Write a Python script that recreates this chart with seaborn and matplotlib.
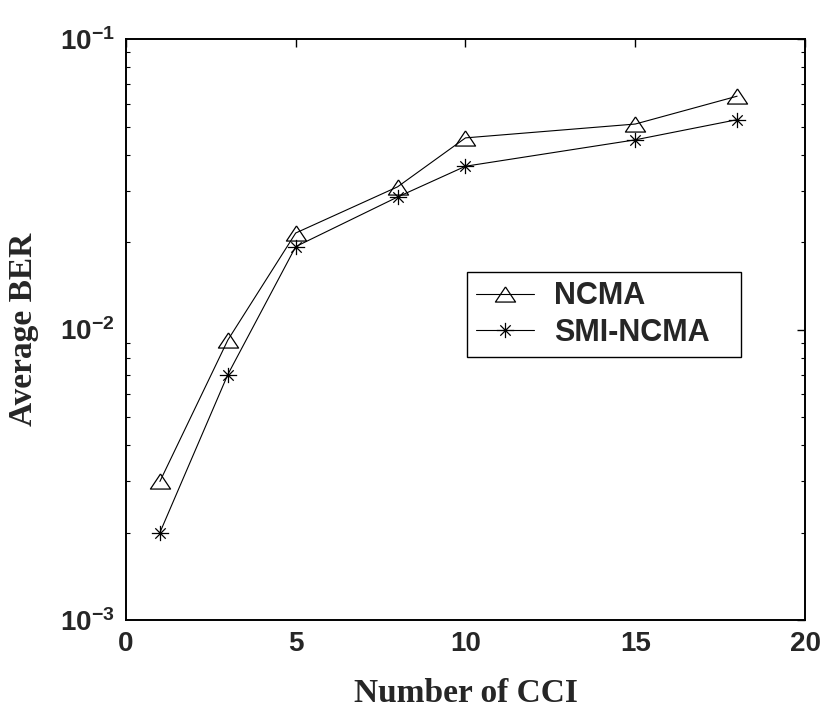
import matplotlib
matplotlib.use("Agg")
import matplotlib.pyplot as plt
import numpy as np
import pandas as pd
import seaborn as sns
from matplotlib.path import Path
from matplotlib.ticker import FixedLocator, FixedFormatter, LogLocator, NullFormatter

# data
num_cci = [1, 3, 5, 8, 10, 15, 18]
ber_ncma = [0.0030, 0.0092, 0.0215, 0.031, 0.0457, 0.051, 0.0636]
ber_smi_ncma = [0.0020, 0.0070, 0.0193, 0.0286, 0.0365, 0.045, 0.0528]
x_ticks = [0, 5, 10, 15, 20]
y_ticks = [1e-3, 1e-2, 1e-1]
y_tick_labels = [r'$\mathbf{10^{-3}}$', r'$\mathbf{10^{-2}}$', r'$\mathbf{10^{-1}}$']

sns.set_theme(style="white")
plt.rcParams['font.family'] = ['Liberation Sans', 'DejaVu Sans']
plt.rcParams['mathtext.fontset'] = 'custom'
plt.rcParams['mathtext.rm'] = 'Liberation Sans:bold'
plt.rcParams['mathtext.bf'] = 'Liberation Sans:bold'

df = pd.DataFrame({'CCI': num_cci, 'NCMA': ber_ncma, 'SMI-NCMA': ber_smi_ncma})

# flat MATLAB-like triangle and 8-arm asterisk
tri = [(0, 0.75), (-1, -0.75), (1, -0.75), (0, 0.75)]
star_verts = [(-1, 0), (1, 0), (0, -0.88), (0, 0.88),
              (-0.6, -0.6), (0.6, 0.6), (-0.6, 0.6), (0.6, -0.6)]
star_codes = [Path.MOVETO, Path.LINETO] * 4
star = Path(star_verts, star_codes)

fig = plt.figure(figsize=(8.26, 7.11), dpi=100)
ax = fig.add_axes([0.1525, 0.128, 0.8221, 0.817])

sns.lineplot(data=df, x='CCI', y='NCMA', ax=ax, color='black', linewidth=0.8,
             marker=tri, markersize=14.5, markerfacecolor='none',
             markeredgecolor='black', markeredgewidth=0.9, label='NCMA')
sns.lineplot(data=df, x='CCI', y='SMI-NCMA', ax=ax, color='black', linewidth=0.8,
             marker=star, markersize=12.5, fillstyle='none',
             markeredgecolor='black', markeredgewidth=0.9, label='SMI-NCMA')

ax.set_yscale('log')
ax.set_xlim(0, 20)
ax.set_ylim(1e-3, 1e-1)
ax.xaxis.set_major_locator(FixedLocator(x_ticks))
ax.yaxis.set_major_locator(FixedLocator(y_ticks))
ax.yaxis.set_major_formatter(FixedFormatter(y_tick_labels))
ax.yaxis.set_minor_locator(LogLocator(base=10, subs=np.arange(2, 10)))
ax.yaxis.set_minor_formatter(NullFormatter())

for side in ['left', 'right', 'top', 'bottom']:
    ax.spines[side].set_color('black')
    ax.spines[side].set_linewidth(1.4)

ax.tick_params(axis='both', which='major', direction='in', length=6, width=1,
               top=True, right=True, labelsize=20, color='black', pad=8)
ax.tick_params(axis='y', which='minor', direction='in', length=3, width=0.8,
               left=True, right=True, color='black')
for lbl in ax.get_xticklabels():
    lbl.set_fontweight('bold')

ax.set_xlabel('Number of CCI', fontsize=24, fontweight='bold',
              family='Liberation Serif')
ax.set_ylabel('Average BER', fontsize=24, fontweight='bold',
              family='Liberation Serif')
ax.xaxis.set_label_coords(0.5, -0.1)
ax.yaxis.set_label_coords(-0.128, 0.5)

leg = ax.legend(loc='upper left', bbox_to_anchor=(0.502, 0.456, 0.404, 0.143),
                mode='expand', fontsize=22,
                frameon=True, fancybox=False, framealpha=1, edgecolor='black',
                handlelength=1.9, handletextpad=0.65, borderpad=0.3,
                labelspacing=0.22, borderaxespad=0)
leg.get_frame().set_linewidth(1.0)
for t in leg.get_texts():
    t.set_fontweight('bold')

fig.savefig('out.png', dpi=100)
